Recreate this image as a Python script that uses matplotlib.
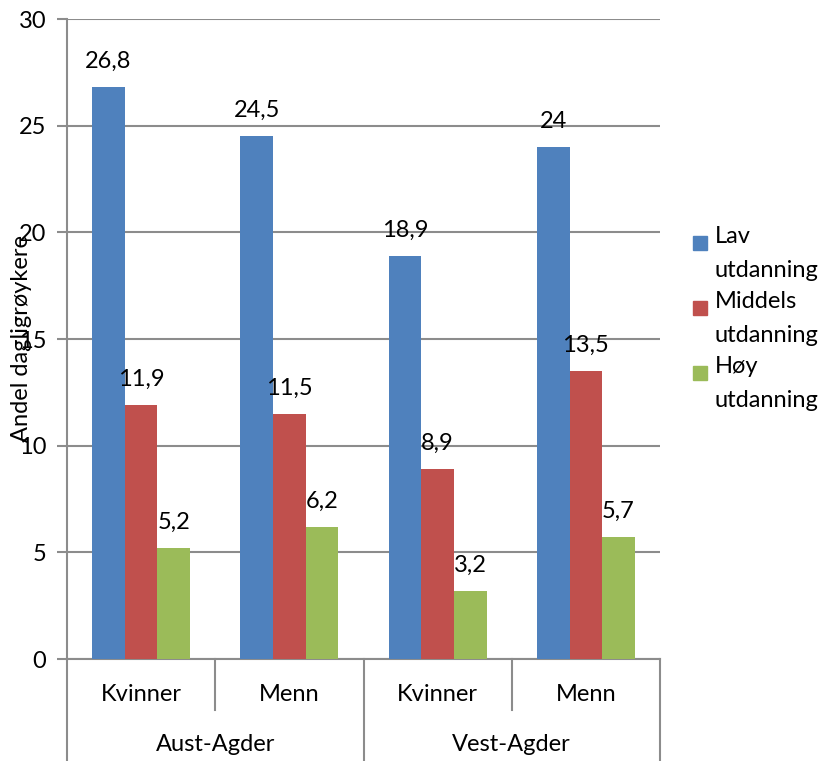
import matplotlib.pyplot as plt
from matplotlib.patches import Rectangle
import numpy as np

# data
regions = ["Aust-Agder", "Vest-Agder"]
genders = ["Kvinner", "Menn"]
series_names = ["Lav\nutdanning", "Middels\nutdanning", "Høy\nutdanning"]
lav = [26.8, 24.5, 18.9, 24.0]
middels = [11.9, 11.5, 8.9, 13.5]
hoy = [5.2, 6.2, 3.2, 5.7]
colors = ["#4F81BD", "#C0504D", "#9BBB59"]

plt.rcParams['font.family'] = ['Lato', 'DejaVu Sans']
grid_col = "#8c8c8c"
fs = 17

fig = plt.figure(figsize=(8.27, 7.61), dpi=100)
ax = fig.add_axes([67 / 827, 102 / 761, 593 / 827, 640 / 761])

x = np.arange(4)
w = 0.22
for i, vals in enumerate([lav, middels, hoy]):
    xs = x + (i - 1) * w
    ax.bar(xs, vals, width=w, color=colors[i], zorder=3)
    for xx, v in zip(xs, vals):
        txt = f"{v:g}".replace(".", ",")
        ax.annotate(txt, (xx, v), xytext=(0, 11), textcoords="offset points",
                    ha="center", va="bottom", fontsize=fs)

ax.set_xlim(-0.5, 3.5)
ax.set_ylim(0, 30)
ax.set_yticks(range(0, 31, 5))
ax.yaxis.grid(True, color=grid_col, linewidth=1.5)
ax.set_axisbelow(True)
ax.tick_params(axis="y", length=7, width=1.5, color=grid_col, labelsize=fs, pad=8)
ax.tick_params(axis="x", bottom=False, labelbottom=False)
for s in ["top", "right"]:
    ax.spines[s].set_visible(False)
for s in ["left", "bottom"]:
    ax.spines[s].set_color(grid_col)
    ax.spines[s].set_linewidth(1.5)

# two-level category axis
tr = ax.get_xaxis_transform()
for xs in [0.5, 2.5]:
    ax.plot([xs, xs], [0, -0.08], transform=tr, color=grid_col, lw=1.5, clip_on=False)
for xs in [-0.5, 1.5, 3.5]:
    ax.plot([xs, xs], [0, -0.16], transform=tr, color=grid_col, lw=1.5, clip_on=False)
for j in range(4):
    ax.text(j, -0.056, genders[j % 2], transform=tr, ha="center", va="center", fontsize=fs)
for k, r in enumerate(regions):
    ax.text(2 * k + 0.5, -0.134, r, transform=tr, ha="center", va="center", fontsize=fs)

fig.text(22 / 827, 1 - 339 / 761, "Andel dagligrøykere", rotation=90,
         ha="center", va="center", fontsize=fs)

# legend, handle next to first line of each label
for i, name in enumerate(series_names):
    ytop = 243 + 65 * i
    fig.patches.append(Rectangle((693 / 827, 1 - (ytop + 7) / 761), 14 / 827, 14 / 761,
                                 transform=fig.transFigure, color=colors[i]))
    fig.text(715 / 827, 1 - (ytop - 17) / 761, name, ha="left", va="top", fontsize=fs,
             linespacing=1.75)

fig.savefig("out.png", dpi=100)
